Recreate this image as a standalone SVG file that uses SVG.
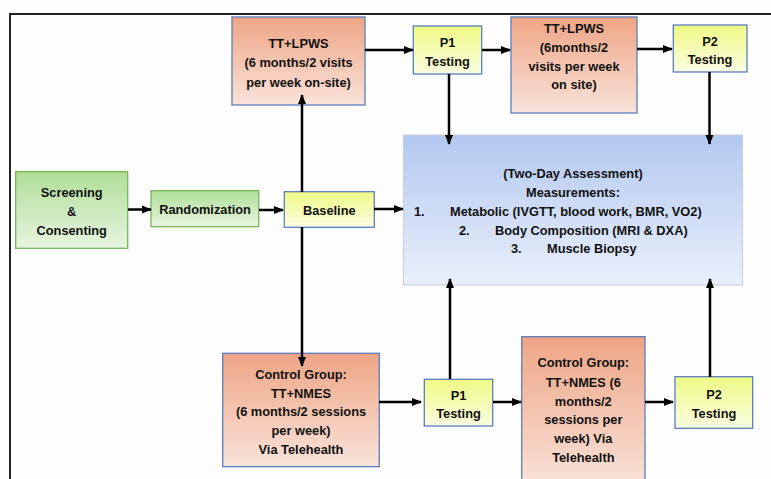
<svg xmlns="http://www.w3.org/2000/svg" width="771" height="479" viewBox="0 0 771 479">
<defs>
<linearGradient id="gOr" x1="0" y1="0" x2="0" y2="1"><stop offset="0" stop-color="#eea585"/><stop offset="1" stop-color="#f9e3da"/></linearGradient>
<linearGradient id="gYe" x1="0" y1="0" x2="0" y2="1"><stop offset="0" stop-color="#effa85"/><stop offset="1" stop-color="#fafde2"/></linearGradient>
<linearGradient id="gGr" x1="0" y1="0" x2="0" y2="1"><stop offset="0" stop-color="#b0de98"/><stop offset="1" stop-color="#e7f5e0"/></linearGradient>
<linearGradient id="gBl" x1="0" y1="0" x2="0" y2="1"><stop offset="0" stop-color="#b3c8f0"/><stop offset="1" stop-color="#e9f0fb"/></linearGradient>
<marker id="ah" markerUnits="userSpaceOnUse" markerWidth="10" markerHeight="10" viewBox="0 0 10 10" refX="9" refY="5" orient="auto"><path d="M0,1 L10,5 L0,9 z" fill="#000"/></marker>
</defs>
<style>
.t{font-family:"Liberation Sans",Arial,sans-serif;font-weight:bold;font-size:12.8px;fill:#111;text-anchor:middle}
.s{text-anchor:start}
.or{fill:url(#gOr);stroke:#5a7ec0;stroke-width:1.3}
.ye{fill:url(#gYe);stroke:#5a7ec0;stroke-width:1.3}
.gr{fill:url(#gGr);stroke:#78b45a;stroke-width:1.3}
.bl{fill:url(#gBl);stroke:#c8ccd4;stroke-width:1}
.c{stroke:#000;stroke-width:2.5;fill:none;marker-end:url(#ah)}
</style>
<rect x="0" y="0" width="771" height="479" fill="#fdfdfd"/>
<path d="M10,479 V14 H771" fill="none" stroke="#222" stroke-width="2"/>

<g id="assessment">
<rect class="bl" x="403.5" y="135" width="339" height="150"/>
<text class="t" x="573" y="177.5">(Two-Day Assessment)</text>
<text class="t" x="573" y="196.5">Measurements:</text>
<text class="t s" x="414" y="215.5">1.</text>
<text class="t s" x="450" y="215.5">Metabolic (IVGTT, blood work, BMR, VO2)</text>
<text class="t s" x="459" y="234.5">2.</text>
<text class="t s" x="495" y="234.5">Body Composition (MRI &amp; DXA)</text>
<text class="t s" x="511" y="253">3.</text>
<text class="t s" x="547" y="253">Muscle Biopsy</text>
</g>

<g id="screening">
<rect class="gr" x="15.7" y="171.7" width="112" height="76.6"/>
<text class="t" x="71.7" y="196.5">Screening</text>
<text class="t" x="71.7" y="215.5">&amp;</text>
<text class="t" x="71.7" y="234.5">Consenting</text>
</g>
<g id="randomization">
<rect class="gr" x="151" y="190.7" width="107.7" height="36"/>
<text class="t" x="205" y="214">Randomization</text>
</g>
<g id="baseline">
<rect class="ye" x="284.3" y="191.7" width="90" height="35.6"/>
<text class="t" x="329.3" y="214.5">Baseline</text>
</g>
<g id="tt-lpws-1">
<rect class="or" x="232" y="17" width="133" height="88"/>
<text class="t" x="298.5" y="47.5">TT+LPWS</text>
<text class="t" x="298.5" y="67">(6 months/2 visits</text>
<text class="t" x="298.5" y="86.5">per week on-site)</text>
</g>
<g id="p1-top">
<rect class="ye" x="413.3" y="26" width="68.4" height="48"/>
<text class="t" x="447.5" y="46.5">P1</text>
<text class="t" x="447.5" y="65.5">Testing</text>
</g>
<g id="tt-lpws-2">
<rect class="or" x="511" y="17" width="126" height="96"/>
<text class="t" x="574" y="32.5">TT+LPWS</text>
<text class="t" x="574" y="51.5">(6months/2</text>
<text class="t" x="574" y="70.5">visits per week</text>
<text class="t" x="574" y="89">on site)</text>
</g>
<g id="p2-top">
<rect class="ye" x="673.3" y="25" width="73.7" height="47"/>
<text class="t" x="710" y="46">P2</text>
<text class="t" x="710" y="64">Testing</text>
</g>
<g id="control-1">
<rect class="or" x="222.7" y="353.3" width="156.6" height="113.4"/>
<text class="t" x="301" y="378.5">Control Group:</text>
<text class="t" x="301" y="397.5">TT+NMES</text>
<text class="t" x="301" y="416">(6 months/2 sessions</text>
<text class="t" x="301" y="435">per week)</text>
<text class="t" x="301" y="453.5">Via Telehealth</text>
</g>
<g id="p1-bottom">
<rect class="ye" x="424.3" y="379.3" width="68.4" height="46.7"/>
<text class="t" x="458.5" y="399.5">P1</text>
<text class="t" x="458.5" y="418">Testing</text>
</g>
<g id="control-2">
<rect class="or" x="521.7" y="336.7" width="123.3" height="150"/>
<text class="t" x="583.3" y="367">Control Group:</text>
<text class="t" x="583.3" y="386.5">TT+NMES (6</text>
<text class="t" x="583.3" y="405.5">months/2</text>
<text class="t" x="583.3" y="424">sessions per</text>
<text class="t" x="583.3" y="443">week) Via</text>
<text class="t" x="583.3" y="461.5">Telehealth</text>
</g>
<g id="p2-bottom">
<rect class="ye" x="675" y="376.7" width="77.7" height="51.6"/>
<text class="t" x="714" y="399">P2</text>
<text class="t" x="714" y="418">Testing</text>
</g>

<g id="connectors">
<path class="c" d="M128,209.5 H151"/>
<path class="c" d="M259,210 H283"/>
<path class="c" d="M374,209 H403"/>
<path class="c" d="M302,192 V95"/>
<path class="c" d="M302,227 V366"/>
<path class="c" d="M365,50 H413"/>
<path class="c" d="M482,50 H510"/>
<path class="c" d="M637,49 H672"/>
<path class="c" d="M449,74 V144"/>
<path class="c" d="M709.5,72 V144"/>
<path class="c" d="M379,402 H421"/>
<path class="c" d="M450,379 V279"/>
<path class="c" d="M493,402 H521"/>
<path class="c" d="M645,402 H673"/>
<path class="c" d="M710,377 V279"/>
</g>
</svg>
